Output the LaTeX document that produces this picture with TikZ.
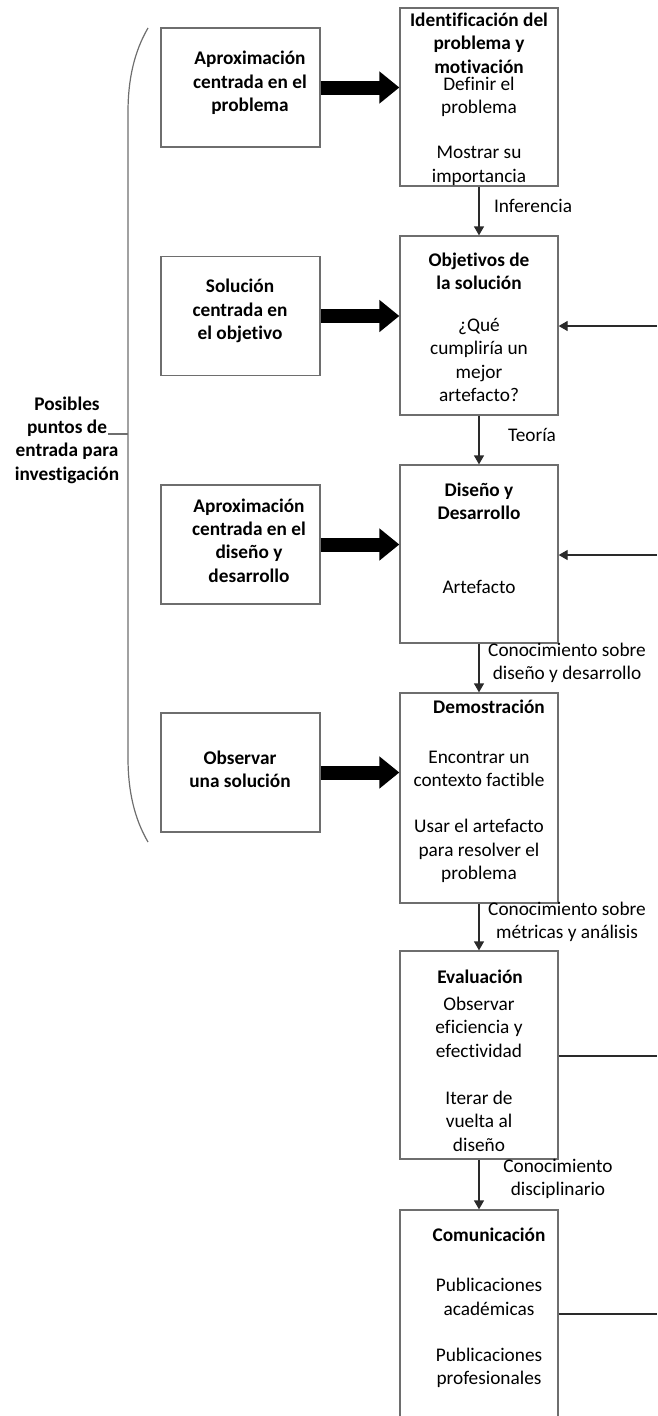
\documentclass[tikz,border=0pt]{standalone}
\usepackage{fontspec}
\setmainfont{Carlito}[Ligatures=NoCommon]
\usetikzlibrary{arrows.meta}
\definecolor{boxline}{HTML}{6E6E6E}
\definecolor{linecol}{HTML}{2A2A2A}
\tikzset{
  txt/.style={align=center, inner sep=0pt, font=\fontsize{19.3}{23.4}\selectfont},
  ttl/.style={txt, font=\fontsize{19.3}{23.4}\selectfont\bfseries},
  box/.style={draw=boxline, line width=1.3pt, fill=white, inner sep=0pt,
    minimum width=159pt},
  entry/.style={box, minimum height=119pt},
  stage/.style={box, minimum width=158pt},
  flow/.style={draw=linecol, line width=1.3pt, -{Triangle[length=9pt,width=10pt]}},
  feed/.style={draw=linecol, line width=1.3pt},
  bigarrow/.style={draw=black, line width=14pt, -{Triangle[length=20pt,width=31pt]}},
}
\begin{document}
\begin{tikzpicture}[x=1pt,y=-1pt]
\useasboundingbox (0,0) rectangle (657,1416);

% entry-point boxes
\node[entry] (L1) at (240.5,87.5) {};
\node[entry] (L2) at (240.5,316) {};
\node[entry] (L3) at (240.5,544.5) {};
\node[entry] (L4) at (240.5,772.5) {};
\node[ttl] (L1t) at (250,83) {Aproximación\\centrada en el\\problema};
\node[ttl] (L2t) at (240,311) {Solución\\centrada en\\el objetivo};
\node[ttl] (L3t) at (249,540.5) {Aproximación\\centrada en el\\diseño y\\desarrollo};
\node[ttl] (L4t) at (240,769) {Observar\\una solución};

% process stages
\node[stage, minimum height=178pt] (R1) at (479,97) {};
\node[stage, minimum height=179pt] (R2) at (479,325.5) {};
\node[stage, minimum height=178pt] (R3) at (479,554) {};
\node[stage, minimum height=210pt] (R4) at (479,798) {};
\node[stage, minimum height=208pt] (R5) at (479,1055) {};
\node[stage, minimum height=214pt] (R6) at (479,1317) {};

\node[ttl] (R1t) at (479,43) {Identificación del\\problema y\\motivación};
\node[txt] (R1a) at (479,97) {Definir el\\problema};
\node[txt] (R1b) at (479,166) {Mostrar su\\importancia};

\node[ttl] (R2t) at (479,271) {Objetivos de\\la solución};
\node[txt] (R2a) at (479,360) {¿Qué\\cumpliría un\\mejor\\artefacto?};

\node[ttl] (R3t) at (479,501) {Diseño y\\Desarrollo};
\node[txt] (R3a) at (479,587) {Artefacto};

\node[ttl] (R4t) at (489,707) {Demostración};
\node[txt] (R4a) at (479,769) {Encontrar un\\contexto factible};
\node[txt] (R4b) at (479,851) {Usar el artefacto\\para resolver el\\problema};

\node[ttl] (R5t) at (480,977) {Evaluación};
\node[txt] (R5a) at (479,1027) {Observar\\eficiencia y\\efectividad};
\node[txt] (R5b) at (479,1121) {Iterar de\\vuelta al\\diseño};

\node[ttl] (R6t) at (489,1235) {Comunicación};
\node[txt] (R6a) at (489,1297) {Publicaciones\\académicas};
\node[txt] (R6b) at (489,1368) {Publicaciones\\profesionales};

% entry arrows
\draw[bigarrow] (L1.east) -- (L1.east -| R1.west);
\draw[bigarrow] (L2.east) -- (L2.east -| R2.west);
\draw[bigarrow] (L3.east) -- (L3.east -| R3.west);
\draw[bigarrow] (L4.east) -- (L4.east -| R4.west);

% main flow
\draw[flow] (R1.south) -- (R2.north);
\draw[flow] (R2.south) -- (R3.north);
\draw[flow] (R3.south) -- (R4.north);
\draw[flow] (R4.south) -- (R5.north);
\draw[flow] (R5.south) -- (R6.north);

\node[txt] (i1) at (533,206) {Inferencia};
\node[txt] (i2) at (532,435) {Teoría};
\node[txt] (i3) at (567,663) {Conocimiento sobre\\diseño y desarrollo};
\node[txt] (i4) at (567,922) {Conocimiento sobre\\métricas y análisis};
\node[txt] (i5) at (558,1179) {Conocimiento\\disciplinario};

% feedback lines at the right
\coordinate (f2) at (657,326);
\coordinate (f3) at (657,555);
\coordinate (f5) at (657,1056);
\coordinate (f6) at (657,1314);
\draw[flow] (f2) -- (R2.east |- f2);
\draw[flow] (f3) -- (R3.east |- f3);
\draw[feed] (R5.east |- f5) -- (f5);
\draw[feed] (R6.east |- f6) -- (f6);

% brace grouping the entry points
\draw[draw=boxline, line width=1.2pt]
  (148,28) .. controls (134,52) and (128,80) .. (128,112)
  -- (128,758) .. controls (128,790) and (134,818) .. (148,842);
\coordinate (bm) at (128,434);
\coordinate (bt) at (108,434);
\draw[draw=boxline, line width=1.2pt] (bm) -- (bt);
\node[ttl] (lab) at (67,440) {Posibles\\puntos de\\entrada para\\investigación};
\end{tikzpicture}
\end{document}
